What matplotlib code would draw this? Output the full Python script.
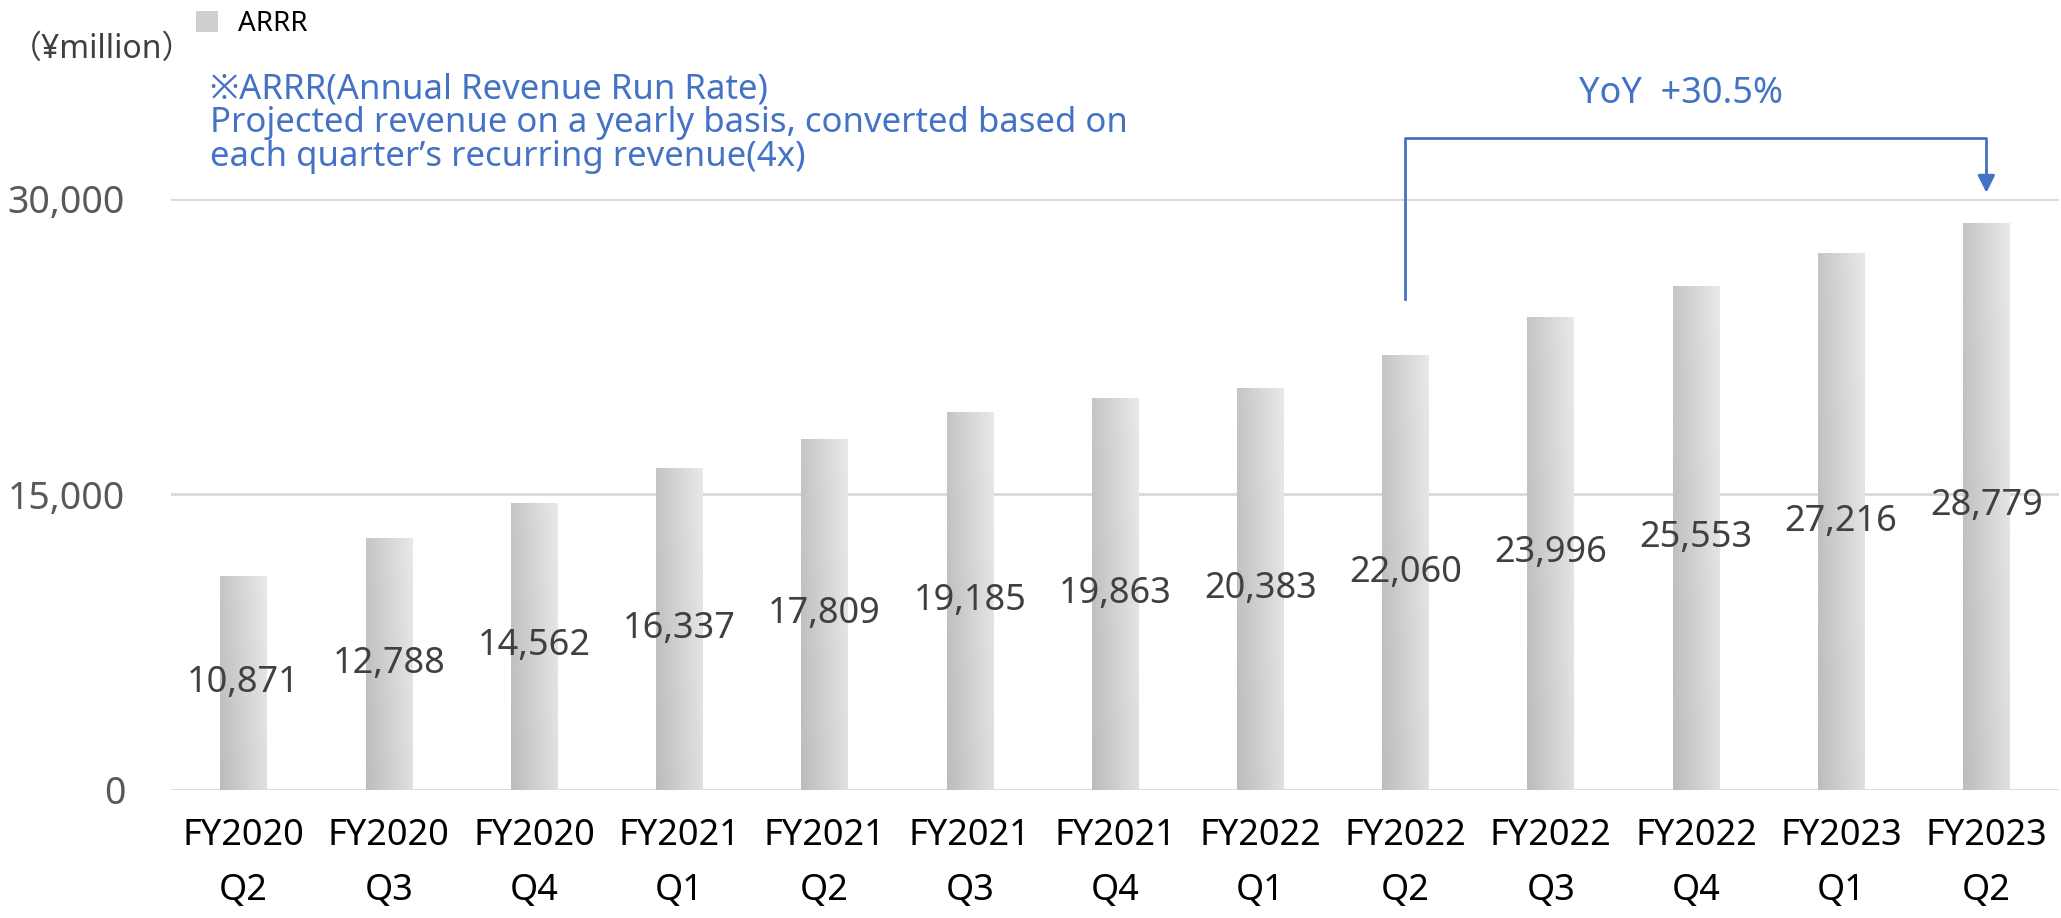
import numpy as np
import matplotlib
matplotlib.use("Agg")
import matplotlib.pyplot as plt
from matplotlib.colors import LinearSegmentedColormap
from matplotlib.patches import Patch

plt.rcParams['font.family'] = ['Noto Sans', 'Noto Sans CJK JP', 'DejaVu Sans']

# data
years = ["FY2020", "FY2020", "FY2020", "FY2021", "FY2021", "FY2021", "FY2021",
         "FY2022", "FY2022", "FY2022", "FY2022", "FY2023", "FY2023"]
quarters = ["Q2", "Q3", "Q4", "Q1", "Q2", "Q3", "Q4",
            "Q1", "Q2", "Q3", "Q4", "Q1", "Q2"]
arrr = [10871, 12788, 14562, 16337, 17809, 19185, 19863,
        20383, 22060, 23996, 25553, 27216, 28779]
yoy_text = "YoY  +30.5%"

BLUE = "#4472C4"
GRID = "#d9d9d9"
W, H = 2061, 918

fig = plt.figure(figsize=(W / 100, H / 100), dpi=100)
ax = fig.add_axes([171 / W, 1 - 790 / H, (2059 - 171) / W, (790 - 198.5) / H])

x = np.arange(len(arrr))
bars = ax.bar(x, arrr, width=0.32, color="#d4d4d4", zorder=2)

# grey gradient fill like the original (darker on the left)
cmap = LinearSegmentedColormap.from_list("bargrad", ["#bcbcbc", "#e9e9e9"])
gx = np.linspace(0, 1, 128)
gy = np.linspace(0, 1, 128)[:, None]
grad = 0.8 * gx[None, :] + 0.2 * gy
for bar in bars:
    x0 = bar.get_x()
    im = ax.imshow(grad, extent=[x0, x0 + bar.get_width(), 0, bar.get_height()],
                   cmap=cmap, aspect="auto", origin="lower", zorder=3)
    im.set_clip_path(bar)

# value labels at bar centre
for xi, v in zip(x, arrr):
    ax.text(xi, v / 2, f"{v:,}", ha="center", va="center",
            fontsize=26, color="#404040", zorder=4)

ax.set_xlim(-0.5, len(arrr) - 0.5)
ax.set_ylim(0, 30000)
ax.set_yticks([0, 15000, 30000])
ax.set_yticklabels([f"{t:,}" for t in [0, 15000, 30000]])
ax.set_xticks(x)
ax.set_xticklabels([f"{a}\n{b}" for a, b in zip(years, quarters)], linespacing=1.7)
ax.tick_params(axis="y", length=0, pad=33, labelsize=27, labelcolor="#595959")
ax.tick_params(axis="x", length=0, pad=20, labelsize=26, labelcolor="#000000")
for s in ax.spines.values():
    s.set_visible(False)
ax.grid(axis="y", color=GRID, linewidth=2, zorder=0)
ax.set_axisbelow(True)

# YoY bracket from FY2022 Q2 to FY2023 Q2
ax.plot([8, 8, 12, 12], [24900, 33050, 33050, 31400], color=BLUE,
        linewidth=2, clip_on=False, zorder=5)
ax.annotate("", xy=(12, 30150), xytext=(12, 31600),
            arrowprops=dict(arrowstyle="-|>", color=BLUE, lw=2, mutation_scale=26),
            annotation_clip=False)
ax.text(9.9, 35300, yoy_text, ha="center", va="center", fontsize=26,
        fontweight="bold", color=BLUE)

# unit, note, legend
fig.text(10 / W, 1 - 49 / H, "（¥million）", ha="left", va="center",
         fontsize=23, color="#404040")
fig.text(210 / W, 1 - 72 / H,
         "※ARRR(Annual Revenue Run Rate)\n"
         "Projected revenue on a yearly basis, converted based on\n"
         "each quarter’s recurring revenue(4x)",
         ha="left", va="top", fontsize=25, color=BLUE, linespacing=1.0)
fig.legend(handles=[Patch(facecolor="#cfcfcf")], labels=["ARRR"],
           loc="center left", bbox_to_anchor=(182 / W, 1 - 24 / H), frameon=False,
           fontsize=20, handlelength=0.8, handleheight=0.8, handletextpad=0.7,
           borderpad=0)

fig.savefig("out.png", dpi=100)
